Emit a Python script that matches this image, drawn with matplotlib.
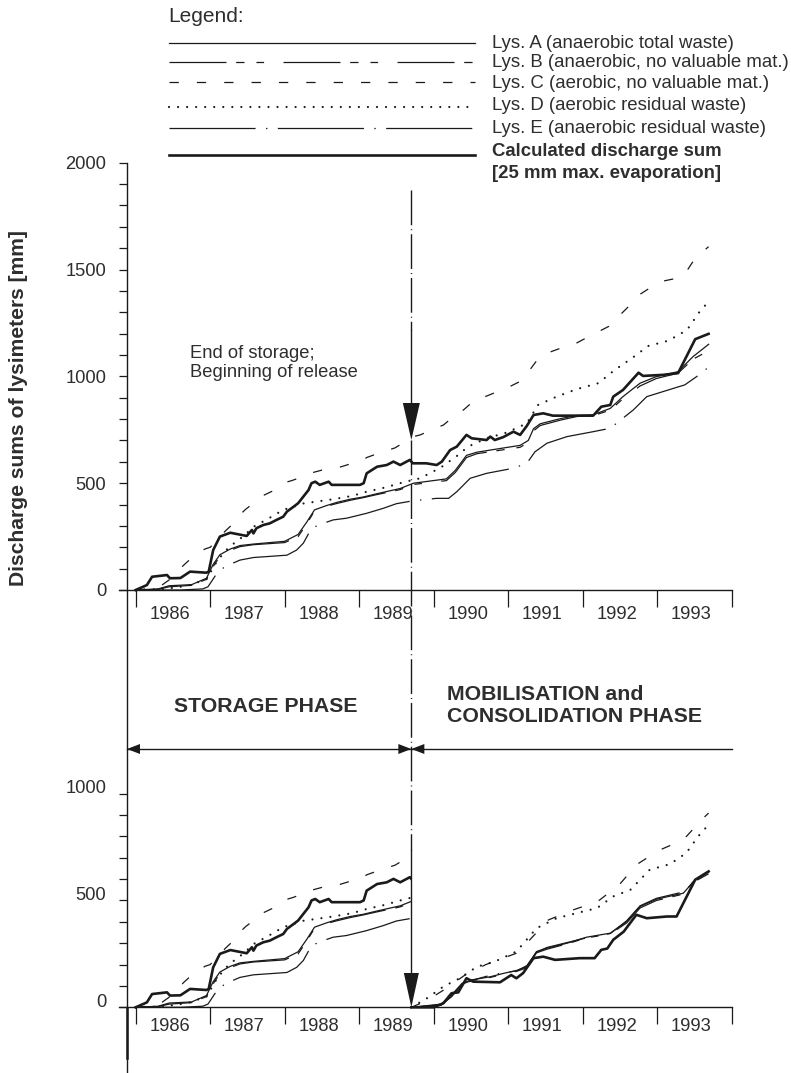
import numpy as np
import matplotlib.pyplot as plt
from matplotlib.patches import Polygon, Rectangle
from matplotlib.transforms import ScaledTranslation

plt.rcParams['font.family'] = ['Liberation Sans', 'DejaVu Sans']
plt.rcParams['lines.scale_dashes'] = False

INK = '#1a1a1a'
TXT = '#2e2e2e'

# cumulative discharge over the whole period [mm]
yr_a = [1986.0, 1986.3, 1986.45, 1986.75, 1986.95, 1987.04, 1987.13, 1987.27, 1987.40, 1987.58,
        1988.0, 1988.18, 1988.3, 1988.4, 1988.56, 1988.7, 1988.88, 1989.05, 1989.23, 1989.55,
        1989.73, 1990.17, 1990.29, 1990.44, 1990.58, 1990.85, 1991.16, 1991.27, 1991.34, 1991.43,
        1991.70, 1991.92, 1992.14, 1992.37, 1992.54, 1992.77, 1992.99, 1993.28, 1993.48, 1993.69]
mm_a = [0, 5, 20, 25, 55, 120, 165, 192, 208, 215,
        228, 260, 320, 375, 395, 410, 425, 435, 450, 475,
        500, 520, 560, 630, 645, 660, 677, 700, 755, 778,
        802, 817, 820, 850, 905, 968, 999, 1022, 1092, 1150]

yr_b = [1986.0, 1986.3, 1986.45, 1986.75, 1986.95, 1987.04, 1987.13, 1987.27, 1987.40, 1987.58,
        1988.0, 1988.18, 1988.3, 1988.4, 1988.56, 1988.7, 1988.88, 1989.05, 1989.23, 1989.55,
        1989.73, 1990.17, 1990.29, 1990.44, 1990.58, 1990.85, 1991.16, 1991.27, 1991.34, 1991.43,
        1991.70, 1991.92, 1992.14, 1992.37, 1992.54, 1992.77, 1992.99, 1993.28, 1993.48, 1993.69]
mm_b = [0, 3, 15, 22, 50, 110, 158, 186, 203, 212,
        222, 250, 312, 370, 392, 405, 420, 432, 446, 470,
        494, 512, 550, 620, 638, 652, 668, 690, 745, 770,
        795, 812, 816, 842, 895, 955, 990, 1015, 1080, 1120]

yr_c = [1986.0, 1986.3, 1986.5, 1986.64, 1986.75, 1986.93, 1987.0, 1987.2, 1987.27, 1987.4,
        1987.47, 1987.71, 1987.83, 1987.98, 1988.12, 1988.38, 1988.54, 1988.74, 1988.88, 1989.05,
        1989.10, 1989.30, 1989.48, 1989.73, 1989.82, 1990.02, 1990.13, 1990.29, 1990.40, 1990.58,
        1990.69, 1990.91, 1991.02, 1991.20, 1991.29, 1991.43, 1991.54, 1991.76, 1991.87, 1992.08,
        1992.21, 1992.39, 1992.48, 1992.66, 1992.72, 1992.93, 1993.04, 1993.26, 1993.37, 1993.51,
        1993.69]
mm_c = [0, 10, 60, 115, 150, 192, 200, 275, 298, 352,
        376, 442, 462, 500, 515, 550, 565, 575, 590, 605,
        620, 645, 665, 718, 726, 757, 772, 819, 843, 898,
        905, 936, 952, 983, 1030, 1096, 1111, 1139, 1147, 1186,
        1209, 1241, 1280, 1342, 1373, 1420, 1443, 1459, 1479, 1553,
        1607]

yr_d = [1986.0, 1986.4, 1986.7, 1986.95, 1987.1, 1987.25, 1987.42, 1987.6, 1987.76, 1987.98,
        1988.25, 1988.45, 1988.65, 1988.9, 1989.1, 1989.35, 1989.6, 1989.82, 1989.99, 1990.11,
        1990.33, 1990.46, 1990.71, 1990.98, 1991.25, 1991.40, 1991.65, 1991.92, 1992.21, 1992.43,
        1992.66, 1992.88, 1993.15, 1993.40, 1993.57, 1993.69]
mm_d = [0, 5, 20, 50, 140, 200, 245, 300, 330, 375,
        405, 415, 425, 440, 460, 480, 505, 523, 554, 577,
        632, 671, 710, 737, 780, 866, 905, 940, 968, 1030,
        1085, 1142, 1167, 1217, 1303, 1350]

yr_e = [1986.0, 1986.6, 1986.9, 1986.97, 1987.09, 1987.2, 1987.40, 1987.58, 1988.03, 1988.16,
        1988.25, 1988.36, 1988.5, 1988.65, 1988.83, 1989.10, 1989.32, 1989.50, 1989.73, 1990.04,
        1990.20, 1990.31, 1990.49, 1990.71, 1991.07, 1991.25, 1991.36, 1991.52, 1991.79, 1992.14,
        1992.37, 1992.68, 1992.86, 1993.22, 1993.37, 1993.53, 1993.69]
mm_e = [0, 0, 5, 15, 78, 110, 140, 152, 163, 187,
        219, 289, 310, 328, 336, 359, 382, 404, 418, 429,
        429, 460, 523, 546, 570, 593, 647, 687, 718, 741,
        757, 843, 905, 944, 960, 999, 1043]

yr_q = [1986.0, 1986.15, 1986.22, 1986.42, 1986.46, 1986.6, 1986.73, 1986.95, 1986.98, 1987.04,
        1987.13, 1987.27, 1987.49, 1987.56, 1987.58, 1987.62, 1987.71, 1987.80, 1987.89, 1987.98,
        1988.03, 1988.12, 1988.18, 1988.25, 1988.32, 1988.36, 1988.41, 1988.47, 1988.59, 1988.63,
        1989.01, 1989.06, 1989.10, 1989.24, 1989.37, 1989.46, 1989.55, 1989.68, 1989.72, 1989.90,
        1990.04, 1990.11, 1990.22, 1990.31, 1990.44, 1990.51, 1990.71, 1990.76, 1990.82, 1990.93,
        1991.07, 1991.16, 1991.25, 1991.34, 1991.47, 1991.60, 1992.14, 1992.25, 1992.37, 1992.41,
        1992.54, 1992.75, 1992.81, 1993.08, 1993.28, 1993.51, 1993.69]
mm_q = [0, 23, 62, 70, 55, 56, 86, 81, 86, 187,
        250, 268, 253, 281, 265, 289, 304, 312, 328, 343,
        367, 390, 406, 437, 468, 500, 507, 492, 507, 492,
        492, 500, 546, 577, 585, 601, 585, 609, 593, 593,
        585, 601, 655, 671, 726, 710, 702, 718, 702, 715,
        741, 726, 768, 819, 827, 816, 816, 858, 866, 905,
        936, 1017, 1002, 1007, 1015, 1174, 1199]

# after the end of storage: sums restarted from zero [mm]
pyr_a = [1989.70, 1990.1, 1990.24, 1990.38, 1990.51, 1990.76, 1990.94, 1991.11, 1991.25, 1991.38,
         1991.52, 1991.79, 1992.05, 1992.37, 1992.59, 1992.77, 1992.99, 1993.35, 1993.51, 1993.69]
pmm_a = [0, 15, 58, 112, 128, 143, 159, 172, 190, 261,
         277, 300, 328, 347, 401, 472, 506, 534, 597, 636]
pyr_b = [1989.70, 1990.1, 1990.24, 1990.38, 1990.51, 1990.76, 1990.94, 1991.11, 1991.25, 1991.38,
         1991.52, 1991.79, 1992.05, 1992.37, 1992.59, 1992.77, 1992.99, 1993.35, 1993.51, 1993.69]
pmm_b = [0, 10, 50, 105, 125, 140, 155, 168, 185, 255,
         272, 297, 325, 343, 395, 465, 500, 530, 600, 645]
pyr_c = [1989.70, 1989.9, 1990.13, 1990.42, 1990.7, 1991.11, 1991.29, 1991.54, 1991.88, 1992.20,
         1992.49, 1992.72, 1993.02, 1993.35, 1993.62, 1993.69]
pmm_c = [0, 30, 80, 151, 200, 253, 316, 409, 457, 495,
         573, 667, 734, 784, 886, 909]
pyr_d = [1989.70, 1989.9, 1990.13, 1990.35, 1990.58, 1990.82, 1991.11, 1991.38, 1991.65, 1991.92,
         1992.19, 1992.41, 1992.64, 1992.90, 1993.17, 1993.39, 1993.55, 1993.69]
pmm_d = [0, 40, 97, 136, 190, 214, 261, 370, 417, 441,
         464, 519, 550, 644, 670, 722, 800, 855]
pyr_e = [1989.70, 1990.1, 1990.24, 1990.38, 1990.51, 1990.76, 1990.94, 1991.11, 1991.25, 1991.38,
         1991.52, 1991.79, 1992.05, 1992.37, 1992.59, 1992.77, 1992.99, 1993.35, 1993.51, 1993.69]
pmm_e = [0, 12, 52, 108, 126, 150, 162, 170, 195, 258,
         280, 303, 325, 345, 405, 475, 510, 540, 590, 625]
pyr_q = [1989.70, 1990.0, 1990.13, 1990.24, 1990.33, 1990.44, 1990.53, 1990.89, 1991.04, 1991.11,
         1991.20, 1991.34, 1991.47, 1991.63, 1991.96, 1992.16, 1992.25, 1992.33, 1992.41, 1992.55,
         1992.72, 1992.86, 1993.13, 1993.26, 1993.51, 1993.69]
pmm_q = [0, 0, 19, 66, 70, 136, 120, 117, 151, 136,
         160, 230, 237, 222, 230, 230, 269, 275, 316, 354,
         433, 417, 425, 425, 597, 636]

release = 1989.70
years = list(range(1986, 1995))

series = [
    ('Lys. A (anaerobic total waste)', yr_a, mm_a, pyr_a, pmm_a,
     dict(lw=0.9, ls='-')),
    ('Lys. B (anaerobic, no valuable mat.)', yr_b, mm_b, pyr_b, pmm_b,
     dict(lw=0.9, ls=(0, (41, 7, 6, 8.6, 5.5, 14)))),
    ('Lys. C (aerobic, no valuable mat.)', yr_c, mm_c, pyr_c, pmm_c,
     dict(lw=0.9, ls=(0, (6.7, 13)))),
    ('Lys. D (aerobic residual waste)', yr_d, mm_d, pyr_d, pmm_d,
     dict(lw=1.6, ls=(0, (0.01, 6.5)), dash_capstyle='round')),
    ('Lys. E (anaerobic residual waste)', yr_e, mm_e, pyr_e, pmm_e,
     dict(lw=0.9, ls=(0, (62, 7.5, 1, 7.5)))),
    ('Calculated discharge sum', yr_q, mm_q, pyr_q, pmm_q,
     dict(lw=1.9, ls='-')),
]

# page layout in pixels
W, H = 791, 1073
X_AX = 127.0
X86, X94 = 135.7, 731.7
Y_T0, Y_T2000 = 590.0, 162.7
Y_B0 = 1007.3
PX_MM = (Y_T0 - Y_T2000) / 2000
PX_YR = (X94 - X86) / 8
xmin = 1986 - (X86 - X_AX) / PX_YR


def xpx(year):
    return X86 + (year - 1986) * PX_YR


fig = plt.figure(figsize=(W / 100, H / 100), dpi=100)

cv = fig.add_axes([0, 0, 1, 1], zorder=-1)
cv.set_xlim(0, W)
cv.set_ylim(H, 0)
cv.axis('off')
cv.patch.set_visible(False)

ax_t = fig.add_axes([X_AX / W, 1 - Y_T0 / H, (X94 - X_AX) / W, (Y_T0 - Y_T2000) / H])
ax_b = fig.add_axes([X_AX / W, 1 - Y_B0 / H, (X94 - X_AX) / W, 1000 * PX_MM / H])

for ax, top, lab_off in [(ax_t, 2000, -117), (ax_b, 1000, -91)]:
    ax.set_xlim(xmin, 1994)
    ax.set_ylim(0, top)
    ax.patch.set_visible(False)
    for s in ax.spines.values():
        s.set_visible(False)
    ax.set_yticks(np.arange(0, top + 1, 500))
    ax.set_yticks(np.arange(0, top + 1, 100), minor=True)
    ax.set_xticks(years)
    ax.tick_params(axis='y', which='both', direction='out', length=5.8, width=0.9,
                   color=INK, labelsize=13.2, labelcolor=TXT, pad=9)
    ax.tick_params(axis='x', which='major', direction='out', length=12, width=0.9,
                   color=INK, labelbottom=False)
    for yr in years[:-1]:
        ax.text(yr + 0.46, lab_off, str(yr), ha='center', va='center',
                fontsize=13.2, color=TXT, clip_on=False)

# lower panel's value labels sit a little above their ticks
lift = ScaledTranslation(0, 7 / 100, fig.dpi_scale_trans)
for lab in ax_b.get_yticklabels():
    lab.set_transform(lab.get_transform() + lift)

# top panel: whole period
for name, yr, mm, pyr, pmm, st in series:
    ax_t.plot(yr, mm, color=INK, clip_on=False, **st)

# bottom panel: storage part up to the release, then restarted sums
keep = Rectangle((xmin, -100), release - xmin, 1300, transform=ax_b.transData)
for name, yr, mm, pyr, pmm, st in series:
    ln, = ax_b.plot(yr, mm, color=INK, **st)
    ln.set_clip_path(keep)
    ax_b.plot(pyr, pmm, color=INK, clip_on=False, **st)

# axis lines
cv.plot([X_AX, X_AX], [Y_T2000, H], color=INK, lw=1.0)
cv.plot([X_AX, X_AX], [1008, 1058], color=INK, lw=1.8)
for y0 in (Y_T0, Y_B0):
    cv.plot([119, X94], [y0, y0], color=INK, lw=1.0)

cv.text(19, 408, 'Discharge sums of lysimeters [mm]', rotation=90, ha='center',
        va='center', fontsize=15.2, fontweight='bold', color=TXT)

# legend block
cv.text(168, 17, 'Legend:', ha='left', va='center', fontsize=15, color=TXT)
leg_rows = [43.3, 62.3, 82, 106.5, 128, 155]
txt_rows = [43.3, 62.3, 84, 106, 128.3, 152]
for (name, yr, mm, pyr, pmm, st), yl, yt in zip(series, leg_rows, txt_rows):
    cv.plot([169, 475], [yl, yl], color=INK, **st)
    bold = name.startswith('Calc')
    cv.text(492, yt, name, ha='left', va='center', fontsize=13.4, color=TXT,
            fontweight='bold' if bold else 'normal')
cv.text(492, 173.5, '[25 mm max. evaporation]', ha='left', va='center',
        fontsize=13.4, color=TXT, fontweight='bold')

# end of storage marker
xr = xpx(release)
dashdot = (0, (25, 2.9, 0.7, 2.9))
cv.plot([xr, xr], [190, 330], color=INK, lw=1.0, ls=dashdot)
cv.plot([xr, xr], [330, 405], color=INK, lw=1.0)
cv.add_patch(Polygon([(xr - 8.5, 403), (xr + 8.5, 403), (xr, 440)], closed=True,
                     color=INK, lw=0))
cv.plot([xr, xr], [440, 850], color=INK, lw=1.0, ls=dashdot)
cv.plot([xr, xr], [850, 975], color=INK, lw=1.0)
cv.add_patch(Polygon([(xr - 7.5, 973), (xr + 7.5, 973), (xr, Y_B0)], closed=True,
                     color=INK, lw=0))
cv.text(190, 363, 'End of storage;\nBeginning of release', ha='left', va='center',
        fontsize=13.2, color=TXT, linespacing=1.2)

# phase arrows
ya = 749
cv.plot([X_AX, X94], [ya, ya], color=INK, lw=1.0)
for tip, base in [(X_AX, X_AX + 13), (xr, xr - 13), (xr, xr + 13)]:
    cv.add_patch(Polygon([(tip, ya), (base, ya - 5), (base, ya + 5)], closed=True,
                         color=INK, lw=0))
cv.text(266, 707, 'STORAGE PHASE', ha='center', va='center', fontsize=15.3,
        fontweight='bold', color=TXT)
cv.text(447, 705.5, 'MOBILISATION and\nCONSOLIDATION PHASE', ha='left', va='center',
        fontsize=15.3, fontweight='bold', color=TXT, linespacing=1.15)

fig.savefig('out.png', dpi=100)
